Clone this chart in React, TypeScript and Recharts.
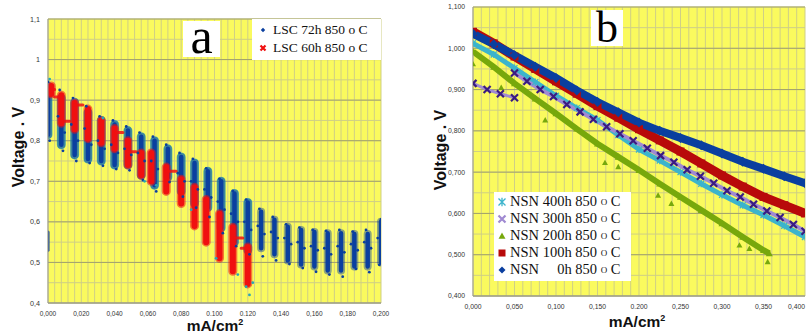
import React from "react";
import { ComposedChart, Line, Scatter, XAxis, YAxis, CartesianGrid } from "recharts";

// ---------- chart a : LSC ----------
const aXTicks = [0, 0.02, 0.04, 0.06, 0.08, 0.1, 0.12, 0.14, 0.16, 0.18, 0.2];
const aXLabels = ["0,000", "0,020", "0,040", "0,060", "0,080", "0.100", "0.120", "0,140", "0,160", "0,180", "0,200"];
const aYTicks = [0.4, 0.5, 0.6, 0.7, 0.8, 0.9, 1, 1.1];
const aYLabels = ["0,4", "0,5", "0,6", "0,7", "0,8", "0,9", "1", "1,1"];

// LSC 72h: vertical clusters (x, top of dense part, bottom of dense part)
const blueX = [0, 0.008, 0.016, 0.024, 0.032, 0.04, 0.048, 0.056, 0.064, 0.072, 0.08, 0.088, 0.096, 0.104, 0.112, 0.12, 0.128, 0.136, 0.144, 0.152, 0.16, 0.168, 0.176, 0.184, 0.192, 0.2];
const blueTop = [0.935, 0.905, 0.895, 0.87, 0.85, 0.84, 0.825, 0.81, 0.8, 0.78, 0.76, 0.745, 0.725, 0.7, 0.67, 0.648, 0.625, 0.605, 0.588, 0.58, 0.575, 0.572, 0.572, 0.57, 0.57, 0.6];
const blueBot = [0.815, 0.79, 0.765, 0.755, 0.75, 0.74, 0.74, 0.715, 0.69, 0.71, 0.675, 0.645, 0.635, 0.585, 0.55, 0.53, 0.535, 0.52, 0.505, 0.495, 0.49, 0.48, 0.48, 0.49, 0.49, 0.5];
const blueLowX = [0];
const blueLowTop = [0.575];
const blueLowBot = [0.53];
const blueStray = [
  [0, 0.945], [0.001, 0.8], [0.009, 0.775], [0.007, 0.925], [0.017, 0.75], [0.015, 0.905], [0.025, 0.745], [0.023, 0.885],
  [0.033, 0.738], [0.031, 0.86], [0.041, 0.73], [0.039, 0.85], [0.049, 0.727], [0.047, 0.835], [0.057, 0.703], [0.055, 0.82],
  [0.065, 0.675], [0.063, 0.81], [0.073, 0.698], [0.071, 0.79], [0.081, 0.662], [0.079, 0.77], [0.089, 0.635], [0.087, 0.755],
  [0.097, 0.612], [0.095, 0.732], [0.105, 0.572], [0.103, 0.706], [0.113, 0.54], [0.111, 0.676], [0.121, 0.52], [0.119, 0.655],
  [0.129, 0.515], [0.127, 0.632], [0.137, 0.505], [0.135, 0.612], [0.145, 0.496], [0.143, 0.594], [0.153, 0.486], [0.151, 0.586],
  [0.161, 0.477], [0.159, 0.58], [0.169, 0.47], [0.167, 0.578], [0.177, 0.465], [0.175, 0.58], [0.185, 0.484], [0.183, 0.576],
  [0.193, 0.476], [0.191, 0.58], [0.199, 0.494], [0.2, 0.606],
  [0.010, 0.82], [0.018, 0.8], [0.026, 0.79], [0.034, 0.78], [0.042, 0.77], [0.050, 0.765], [0.058, 0.75], [0.066, 0.73],
  [0.082, 0.7], [0.090, 0.68], [0.098, 0.66], [0.106, 0.63], [0.114, 0.6], [0.122, 0.58], [0.13, 0.57], [0.138, 0.56],
  [0.146, 0.545], [0.154, 0.535], [0.162, 0.53], [0.17, 0.52], [0.178, 0.525], [0.186, 0.53], [0.194, 0.535],
  [0.006, 0.86], [0.014, 0.84], [0.022, 0.83], [0.030, 0.8], [0.038, 0.79], [0.046, 0.78], [0.054, 0.77], [0.062, 0.75],
  [0.078, 0.72], [0.086, 0.7], [0.094, 0.68], [0.102, 0.65], [0.110, 0.62], [0.118, 0.6], [0.126, 0.59], [0.134, 0.575],
  [0.142, 0.56], [0.150, 0.55], [0.158, 0.54], [0.166, 0.535], [0.174, 0.54], [0.182, 0.545], [0.190, 0.55], [0.198, 0.56],
];
const tealStray = [[0.121, 0.42], [0.119, 0.44], [0.123, 0.45], [0.101, 0.51], [0.086, 0.63], [0.001, 0.952], [0.033, 0.856], [0.065, 0.69], [0.058, 0.7], [0.114, 0.47]];

// LSC 60h
const redX = [0.002, 0.008, 0.016, 0.024, 0.032, 0.04, 0.048, 0.056, 0.062, 0.071, 0.08, 0.088, 0.095, 0.103, 0.111, 0.12];
const redTop = [0.935, 0.912, 0.893, 0.878, 0.85, 0.83, 0.8, 0.77, 0.77, 0.735, 0.705, 0.685, 0.655, 0.62, 0.587, 0.538];
const redBot = [0.915, 0.843, 0.828, 0.805, 0.795, 0.78, 0.74, 0.715, 0.7, 0.675, 0.645, 0.59, 0.55, 0.51, 0.478, 0.447];
const redFlat = [
  [0, 0.004, 0.926], [0.004, 0.008, 0.908], [0.010, 0.013, 0.848], [0.016, 0.021, 0.888],
  [0.041, 0.045, 0.82], [0.049, 0.053, 0.773], [0.071, 0.077, 0.725], [0.112, 0.117, 0.56], [0.116, 0.12, 0.535],
];

// ---------- chart b : NSN ----------
const bXTicks = [0, 0.05, 0.1, 0.15, 0.2, 0.25, 0.3, 0.35, 0.4];
const bXLabels = ["0,000", "0,050", "0,100", "0,150", "0.200", "0,250", "0,300", "0,350", "0,400"];
const bYTicks = [0.4, 0.5, 0.6, 0.7, 0.8, 0.9, 1, 1.1];
const bYLabels = ["0,400", "0,500", "0,600", "0,700", "0,800", "0,900", "1,000", "1,100"];

const nsnX = [0, 0.025, 0.05, 0.075, 0.1, 0.125, 0.15, 0.175, 0.2, 0.225, 0.25, 0.275, 0.3, 0.325, 0.35, 0.375, 0.4];
const nsn0h = [1.035, 1.01, 0.983, 0.955, 0.928, 0.898, 0.87, 0.845, 0.82, 0.8, 0.783, 0.765, 0.745, 0.725, 0.708, 0.69, 0.673];
const nsn100h = [1.04, 1.012, 0.98, 0.95, 0.92, 0.89, 0.86, 0.832, 0.804, 0.777, 0.75, 0.721, 0.692, 0.665, 0.64, 0.62, 0.6];
const nsn400h = [1.012, 0.985, 0.952, 0.918, 0.885, 0.855, 0.826, 0.79, 0.755, 0.728, 0.7, 0.672, 0.645, 0.62, 0.596, 0.57, 0.543];
const nsn300LowX = [0, 0.017, 0.033, 0.05];
const nsn300Low = [0.915, 0.9, 0.89, 0.88];
const nsn300X = [0.05, 0.065, 0.081, 0.097, 0.113, 0.129, 0.145, 0.161, 0.177, 0.193, 0.21, 0.226, 0.242, 0.258, 0.274, 0.29, 0.306, 0.322, 0.338, 0.354, 0.37, 0.386, 0.4];
const nsn300 = [0.94, 0.92, 0.9, 0.883, 0.864, 0.846, 0.828, 0.81, 0.793, 0.776, 0.758, 0.74, 0.724, 0.706, 0.69, 0.673, 0.655, 0.64, 0.622, 0.606, 0.59, 0.573, 0.557];
const nsn200X = [0, 0.025, 0.05, 0.075, 0.1, 0.125, 0.15, 0.175, 0.2, 0.225, 0.25, 0.275, 0.3, 0.325, 0.35, 0.357];
const nsn200 = [0.992, 0.955, 0.915, 0.878, 0.842, 0.805, 0.769, 0.737, 0.705, 0.672, 0.64, 0.608, 0.576, 0.543, 0.511, 0.503];
const nsn200Stray = [[0, 0.962], [0.034, 0.905], [0.087, 0.826], [0.159, 0.723], [0.175, 0.713], [0.223, 0.644], [0.239, 0.624], [0.321, 0.523], [0.333, 0.515], [0.355, 0.483]];

const legendB = ["NSN 400h 850 ", "NSN 300h 850 ", "NSN 200h 850 ", "NSN 100h 850 ", "NSN     0h 850 "];

const YELLOW = "#fafa5e";
const GRID = "#cfcf86";
const GRID_MAJOR = "#a3a36a";
const BLUE = "#0a3f9f";
const TEAL = "#2aa5b5";
const RED = "#f01010";
const DRED = "#b80a0a";
const GREEN = "#77a80c";
const CYAN = "#3cb4cc";
const LPURPLE = "#a08ad2";
const DPURPLE = "#3a1c82";

const serif = "'Liberation Serif', 'Times New Roman', serif";
const sans = "'Liberation Sans', Arial, sans-serif";

const segments = (xs: number[], tops: number[], bots: number[]) =>
  xs.flatMap((x, i) => [{ x, y: tops[i] }, { x, y: bots[i] }, { x, y: null }]);
const flats = (list: number[][]) =>
  list.flatMap(([x1, x2, y]) => [{ x: x1, y }, { x: x2, y }, { x: x2, y: null }]);
const pts = (xs: number[], ys: number[]) => xs.map((x, i) => ({ x, y: ys[i] }));
const pairs = (list: number[][]) => list.map(([x, y]) => ({ x, y }));

const steps = (from: number, to: number, step: number) => {
  const out: number[] = [];
  for (let v = from; v <= to + 1e-9; v += step) out.push(Math.round(v * 10000) / 10000);
  return out;
};

const dotShape = (kind: string, color: string, size: number) => (p: any) => {
  const { cx, cy, index } = p;
  if (cy == null || isNaN(cy)) return <g key={index} />;
  const s = size;
  if (kind === "diamond")
    return <path key={index} d={`M${cx},${cy - s}L${cx + s},${cy}L${cx},${cy + s}L${cx - s},${cy}Z`} fill={color} />;
  if (kind === "square") return <rect key={index} x={cx - s} y={cy - s} width={2 * s} height={2 * s} fill={color} />;
  if (kind === "triangle")
    return <path key={index} d={`M${cx},${cy - s}L${cx + s},${cy + s * 0.8}L${cx - s},${cy + s * 0.8}Z`} fill={color} />;
  if (kind === "x")
    return (
      <path key={index} d={`M${cx - s},${cy - s}L${cx + s},${cy + s}M${cx + s},${cy - s}L${cx - s},${cy + s}`} stroke={color} strokeWidth={2.2} />
    );
  return (
    <path
      key={index}
      d={`M${cx - s},${cy - s}L${cx + s},${cy + s}M${cx + s},${cy - s}L${cx - s},${cy + s}M${cx},${cy - s * 1.2}L${cx},${cy + s * 1.2}`}
      stroke={color}
      strokeWidth={1.3}
    />
  );
};

const tickA = { fontSize: 6.5, fill: "#333", fontFamily: sans };
const tickB = { fontSize: 6.8, fill: "#333", fontFamily: sans };
const dotRound = (color: string, r: number) => (p: any) => <circle cx={p.cx} cy={p.cy} r={r} fill={color} />;

// last x tick of chart b sits on the page edge: right-align it so it stays readable
const TickB = (p: any) => {
  const last = p.index === bXTicks.length - 1;
  return (
    <text x={p.x} y={p.y} dy="0.71em" textAnchor={last ? "end" : "middle"} fontSize={tickB.fontSize} fill={tickB.fill} fontFamily={sans}>
      {bXLabels[p.index]}
    </text>
  );
};

function ChartA() {
  return (
    <ComposedChart width={400} height={333} margin={{ top: 19, right: 19, bottom: 6, left: 8 }}>
      <CartesianGrid
        fill={YELLOW}
        stroke={GRID}
        verticalValues={steps(0, 0.2, 0.004)}
        horizontalValues={steps(0.4, 1.1, 0.05)}
      />
      <CartesianGrid fill="none" stroke={GRID_MAJOR} vertical={false} horizontalValues={aYTicks} />
      <XAxis
        type="number"
        dataKey="x"
        domain={[0, 0.2]}
        ticks={aXTicks}
        interval={0}
        height={24}
        tickLine={false}
        stroke="#999"
        tick={tickA}
        tickFormatter={(v, i) => aXLabels[i]}
        allowDataOverflow
      />
      <YAxis
        type="number"
        domain={[0.4, 1.1]}
        ticks={aYTicks}
        interval={0}
        width={40}
        tickLine={false}
        stroke="#999"
        tick={{ ...tickA, fontSize: 7.2 }}
        tickFormatter={(v, i) => aYLabels[i]}
        allowDataOverflow
      />
      <Line data={segments(blueX.filter((x) => x <= 0.12), blueTop, blueBot)} dataKey="y" stroke={TEAL} strokeOpacity={0.7} strokeWidth={9} strokeLinecap="round" dot={false} connectNulls={false} isAnimationActive={false} />
      <Line data={segments(blueX, blueTop, blueBot)} dataKey="y" stroke={BLUE} strokeOpacity={0.45} strokeWidth={8} strokeLinecap="round" dot={false} connectNulls={false} isAnimationActive={false} />
      <Line data={segments(blueX, blueTop, blueBot)} dataKey="y" stroke={BLUE} strokeWidth={4.5} strokeLinecap="round" dot={false} connectNulls={false} isAnimationActive={false} />
      <Line data={segments(blueLowX, blueLowTop, blueLowBot)} dataKey="y" stroke={BLUE} strokeWidth={3} strokeLinecap="round" dot={false} connectNulls={false} isAnimationActive={false} />
      <Scatter data={pairs(blueStray)} dataKey="y" fill={BLUE} shape={dotRound(BLUE, 1.4)} isAnimationActive={false} />
      <Scatter data={pairs(tealStray)} dataKey="y" fill={TEAL} shape={dotRound(TEAL, 1.4)} isAnimationActive={false} />
      <Line data={segments(redX, redTop, redBot)} dataKey="y" stroke={RED} strokeOpacity={0.55} strokeWidth={9} strokeLinecap="round" dot={false} connectNulls={false} isAnimationActive={false} />
      <Line data={segments(redX, redTop, redBot)} dataKey="y" stroke={RED} strokeWidth={6} strokeLinecap="round" dot={false} connectNulls={false} isAnimationActive={false} />
      <Line data={flats(redFlat)} dataKey="y" stroke={RED} strokeOpacity={0.85} strokeWidth={3} strokeLinecap="round" dot={false} connectNulls={false} isAnimationActive={false} />
    </ComposedChart>
  );
}

function ChartB() {
  return (
    <ComposedChart width={408} height={333} margin={{ top: 7, right: 3, bottom: 13, left: 23 }}>
      <CartesianGrid fill={YELLOW} stroke={GRID} verticalValues={steps(0, 0.4, 0.01)} horizontalValues={steps(0.4, 1.1, 0.05)} />
      <CartesianGrid fill="none" stroke={GRID_MAJOR} vertical={false} horizontalValues={bYTicks} />
      <XAxis
        type="number"
        dataKey="x"
        domain={[0, 0.4]}
        ticks={bXTicks}
        interval={0}
        height={24}
        tickLine={false}
        stroke="#999"
        tick={<TickB />}
        allowDataOverflow
      />
      <YAxis
        type="number"
        domain={[0.4, 1.1]}
        ticks={bYTicks}
        interval={0}
        width={50}
        tickLine={false}
        stroke="#999"
        tick={tickB}
        tickFormatter={(v, i) => bYLabels[i]}
        allowDataOverflow
      />
      <Line data={pts(nsn200X, nsn200)} dataKey="y" stroke={GREEN} strokeWidth={6} dot={dotShape("triangle", GREEN, 3.5)} isAnimationActive={false} />
      <Scatter data={pairs(nsn200Stray)} dataKey="y" shape={(p: any) => dotShape("triangle", GREEN, 3)(p)} isAnimationActive={false} />
      <Line data={pts(nsnX, nsn400h)} dataKey="y" stroke={CYAN} strokeWidth={5} dot={dotShape("star", CYAN, 3)} isAnimationActive={false} />
      <Line data={pts(nsn300LowX, nsn300Low)} dataKey="y" stroke={LPURPLE} strokeWidth={3} dot={dotShape("x", DPURPLE, 3.5)} isAnimationActive={false} />
      <Line data={pts(nsn300X, nsn300)} dataKey="y" stroke={LPURPLE} strokeWidth={4} dot={dotShape("x", DPURPLE, 3.5)} isAnimationActive={false} />
      <Line data={pts(nsnX, nsn100h)} dataKey="y" stroke={DRED} strokeWidth={9} dot={dotShape("square", DRED, 4)} isAnimationActive={false} />
      <Line data={pts(nsnX, nsn0h)} dataKey="y" stroke={BLUE} strokeWidth={8} dot={dotShape("diamond", BLUE, 5)} isAnimationActive={false} />
    </ComposedChart>
  );
}

const LegendMark = ({ kind, color }: { kind: string; color: string }) => (
  <svg width={12} height={12} style={{ marginRight: 2 }}>
    {dotShape(kind, color, 3.5)({ cx: 6, cy: 6, index: 0 })}
  </svg>
);

export default function App() {
  const bKinds = [
    ["star", CYAN],
    ["x", LPURPLE],
    ["triangle", GREEN],
    ["square", DRED],
    ["diamond", BLUE],
  ];
  return (
    <div style={{ position: "absolute", left: 0, top: 0, width: 808, height: 333, background: "#fff", overflow: "hidden" }}>
      <div style={{ position: "absolute", left: 0, top: 0 }}>
        <ChartA />
      </div>
      <div style={{ position: "absolute", left: 400, top: 0 }}>
        <ChartB />
      </div>

      {/* panel letters */}
      <div style={{ position: "absolute", left: 183, top: 21, width: 37, height: 36, background: "#fff", fontFamily: serif, fontSize: 50, lineHeight: "30px", textAlign: "center" }}>
        a
      </div>
      <div style={{ position: "absolute", left: 591, top: 10, width: 32, height: 36, background: "#fff", fontFamily: serif, fontSize: 44, lineHeight: "36px", textAlign: "center" }}>
        b
      </div>

      {/* axis titles */}
      {[
        [19, 147],
        [441, 150],
      ].map(([cx, cy], i) => (
        <div
          key={i}
          style={{ position: "absolute", left: cx - 60, top: cy - 10, width: 120, height: 20, lineHeight: "20px", textAlign: "center", transform: "rotate(-90deg)", fontFamily: sans, fontWeight: "bold", fontSize: 16, color: "#111" }}
        >
          Voltage . V
        </div>
      ))}
      {[
        [215, 318],
        [637, 314],
      ].map(([cx, cy], i) => (
        <div key={i} style={{ position: "absolute", left: cx - 50, top: cy, width: 100, textAlign: "center", fontFamily: sans, fontWeight: "bold", fontSize: 15.5, lineHeight: "16px", color: "#111" }}>
          mA/cm<sup style={{ fontSize: 9, lineHeight: 0 }}>2</sup>
        </div>
      ))}

      {/* legend a */}
      <div style={{ position: "absolute", left: 252, top: 19, width: 129, height: 41, background: "#fff", fontFamily: serif, fontSize: 13.5, color: "#111" }}>
        <div style={{ display: "flex", alignItems: "center", height: 18, marginTop: 2, paddingLeft: 6 }}>
          <svg width={10} height={10} style={{ marginRight: 5 }}>
            {dotShape("diamond", BLUE, 2.2)({ cx: 5, cy: 5, index: 0 })}
          </svg>
          LSC 72h 850 o C
        </div>
        <div style={{ display: "flex", alignItems: "center", height: 18, paddingLeft: 6 }}>
          <svg width={10} height={10} style={{ marginRight: 5 }}>
            {dotShape("x", RED, 2.5)({ cx: 5, cy: 5, index: 0 })}
          </svg>
          LSC 60h 850 o C
        </div>
      </div>

      {/* legend b */}
      <div style={{ position: "absolute", left: 494, top: 192, width: 137, height: 88, background: "#fff", fontFamily: serif, fontSize: 14.5, color: "#111", paddingTop: 1 }}>
        {legendB.map((t, i) => (
          <div key={i} style={{ display: "flex", alignItems: "center", height: 17, paddingLeft: 2, whiteSpace: "pre" }}>
            <LegendMark kind={bKinds[i][0]} color={bKinds[i][1]} />
            {t}
            <sup style={{ fontSize: 9, lineHeight: 0 }}>O</sup> C
          </div>
        ))}
      </div>
    </div>
  );
}
